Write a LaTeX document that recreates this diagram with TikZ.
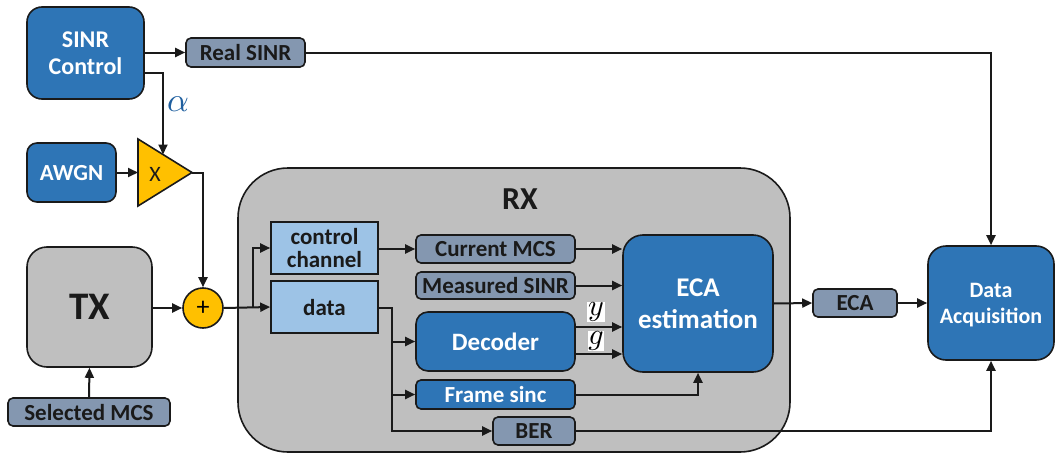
\documentclass[tikz,border=0pt]{standalone}
\usepackage{fontspec}
\setmainfont{Carlito}
\usetikzlibrary{arrows.meta}

\definecolor{dblue}{HTML}{2E75B6}
\definecolor{gblue}{HTML}{8497B0}
\definecolor{lblue}{HTML}{9DC3E6}
\definecolor{amber}{HTML}{FFC000}
\definecolor{lgrey}{HTML}{BFBFBF}
\definecolor{edge}{HTML}{1A1A1A}
\definecolor{alphac}{HTML}{1F5F9F}

\newcommand{\fsz}[1]{\fontsize{#1}{#1}\selectfont\bfseries}

\tikzset{
  box/.style={draw=edge, line width=1.6pt, inner sep=0pt, align=center,
              text depth=0pt},
  darkbox/.style={box, fill=dblue, text=white},
  tagbox/.style={box, fill=gblue, text=edge, rounded corners=5pt,
                 font=\fsz{23}},
  lightbox/.style={box, fill=lblue, text=edge, font=\fsz{23}},
  greybox/.style={box, fill=lgrey, text=edge},
  wire/.style={draw=edge, line width=2pt},
  arr/.style={wire, -{Triangle[length=10pt,width=9pt]}},
  sym/.style={inner sep=0.8pt, fill=white, text=black},
}

\begin{document}
\begin{tikzpicture}[x=1pt, y=-1pt]
\useasboundingbox (0,0) rectangle (1055,455);

% receiver enclosure
\node[greybox, rounded corners=50pt, minimum width=552pt, minimum height=284pt]
  (rx) at (514,310) {};
\node[text=edge, font=\fsz{32}] (rxlabel) at (520,199) {RX};

% left-hand chain
\node[darkbox, rounded corners=15pt, minimum width=117pt, minimum height=92pt,
      font=\fsz{24}] (sinr) at (85.5,53) {SINR\\[3pt]Control};
\node[tagbox, minimum width=119pt, minimum height=29pt] (real) at (245.5,52.5) {Real SINR};
\node[darkbox, rounded corners=10pt, minimum width=89pt, minimum height=59pt,
      font=\fsz{23}] (awgn) at (71.5,172.5) {AWGN};
\node[greybox, rounded corners=20pt, minimum width=125pt, minimum height=120pt,
      font=\fsz{39}] (tx) at (89.5,307) {TX};
\node[tagbox, minimum width=162pt, minimum height=28pt] (sel) at (89,412) {Selected MCS};

% gain stage (drawn as a triangle) and summing junction
\draw[draw=edge, line width=1.6pt, fill=amber, line join=miter]
  (138,139) -- (192,172.5) -- (138,206) -- cycle;
\node[text=edge, font=\fontsize{22}{22}\selectfont] (amp) at (155,174) {X};
\coordinate (ampin)  at (138,172.5);
\coordinate (amptop) at (163,154.5);
\coordinate (ampout) at (192,172.5);
\node[draw=edge, line width=1.6pt, fill=amber, circle, minimum size=40pt,
      inner sep=0pt, font=\fontsize{26}{26}\selectfont] (adder) at (203,308) {+};

% inside the receiver
\node[lightbox, minimum width=107pt, minimum height=52pt] (cc) at (324.5,248) {control\\[0pt]channel};
\node[lightbox, minimum width=107pt, minimum height=52pt] (data) at (324.5,307) {data};
\node[tagbox, minimum width=159pt, minimum height=28pt] (cur) at (495.5,249) {Current MCS};
\node[tagbox, minimum width=159pt, minimum height=27pt] (meas) at (495.5,285.5) {Measured SINR};
\node[darkbox, rounded corners=12pt, minimum width=159pt, minimum height=59pt,
      font=\fsz{25}] (dec) at (495.5,341.5) {Decoder};
\node[darkbox, rounded corners=5pt, minimum width=159pt, minimum height=29pt,
      font=\fsz{23}] (fs) at (495.5,394.5) {Frame sinc};
\node[tagbox, minimum width=82pt, minimum height=28pt] (ber) at (534,431) {BER};
\node[darkbox, rounded corners=20pt, minimum width=150pt, minimum height=137pt,
      font=\fsz{27}] (eca) at (698,303.5) {ECA\\[5pt]estimation};

% right-hand side
\node[tagbox, minimum width=84pt, minimum height=28pt] (ecab) at (855,303) {ECA};
\node[darkbox, rounded corners=18pt, minimum width=126pt, minimum height=114pt,
      font=\fsz{22}] (da) at (991,303) {Data\\[4pt]Acquisition};

% helper points
\coordinate (ctl)   at (144,73);
\coordinate (split) at (253,308);
\coordinate (dj)    at (392,308);
\coordinate (yrow)  at (0,327);
\coordinate (grow)  at (0,354);

% connectors
\draw[arr] (sinr.east |- real.west) -- (real.west);
\draw[arr] (real.east) -| (da.north);
\draw[arr] (ctl) -| (amptop);
\node[text=alphac, inner sep=0pt] (alpha) at (178,104) {\scalebox{3.4}{$\alpha$}};
\draw[arr] (awgn.east |- ampin) -- (ampin);
\draw[arr] (ampout) -| (adder.north);
\draw[arr] (tx.east |- adder.west) -- (adder.west);
\draw[arr] (sel.north) -- (tx.south);
\draw[arr] (adder.east) -- (data.west);
\draw[arr] (split) |- (cc.west);
\draw[arr] (cc.east |- cur.west) -- (cur.west);
\draw[arr] (data.east |- dj) -| (dj |- ber.west) -- (ber.west);
\draw[arr] (dj |- dec.west) -- (dec.west);
\draw[arr] (dj |- fs.west) -- (fs.west);
\draw[arr] (cur.east) -- (cur.east -| eca.west);
\draw[arr] (meas.east) -- (meas.east -| eca.west);
\draw[arr] (dec.east |- yrow) -- (eca.west |- yrow);
\draw[arr] (dec.east |- grow) -- (eca.west |- grow);
\node[sym] (ylab) at (596,312) {\scalebox{3}{$y$}};
\node[sym] (glab) at (596,341) {\scalebox{3}{$g$}};
\draw[arr] (fs.east) -| (eca.south);
\draw[arr] (ber.east) -| (da.south);
\draw[arr] (eca.east) -- (ecab.west);
\draw[arr] (ecab.east) -- (da.west);
\end{tikzpicture}
\end{document}
